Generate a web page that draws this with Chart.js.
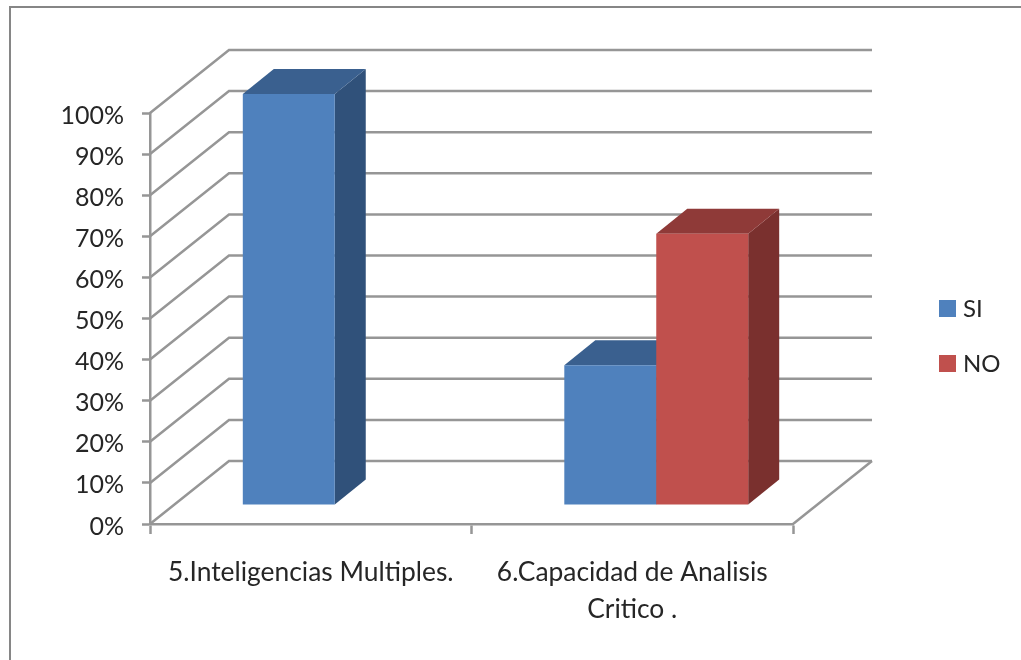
<!DOCTYPE html>
<html>
<head>
<meta charset="utf-8">
<style>
  html, body { margin: 0; padding: 0; background: #fff; overflow: hidden; }
  #frame { position: absolute; left: 9px; top: 6px; width: 1040px; height: 700px; border: 2.5px solid #868686; box-sizing: content-box; }
  #chart { position: absolute; left: 0; top: 0; filter: blur(0.5px); }
</style>
<script src="https://cdn.jsdelivr.net/npm/chart.js@4"></script>
</head>
<body>
<div id="frame"></div>
<canvas id="chart" width="1021" height="660"></canvas>
<script>
// Data
const categories = ["5.Inteligencias Multiples.", ["6.Capacidad de Analisis", "Critico ."]];
const siValues = [100, 34];
const noValues = [null, 66];

const FONT = "Lato, 'Open Sans', sans-serif";
const TEXT = "#262626";
const LINE = "#969696";

// faux 3D: wall depth, how far into it the bars sit, and their own depth
const WALL = { dx: 79, dy: -63 };
const BAR_SHIFT = { dx: 24, dy: -19 };
const BAR_DEPTH = { dx: 31, dy: -25 };

const shades = {
  SI: { front: "#4F81BD", top: "#3A608F", side: "#30517A" },
  NO: { front: "#C0504D", top: "#8F3A38", side: "#7A302E" },
};

// ── Back wall and floor ───────────────────────────────────────────────────

const wallPlugin = {
  id: "wall",
  beforeDatasetsDraw(chart) {
    const { ctx, chartArea: { left, right, bottom }, scales: { y } } = chart;
    ctx.save();
    ctx.strokeStyle = LINE;
    ctx.lineWidth = 2.5;
    y.ticks.forEach(t => {
      const py = y.getPixelForValue(t.value);
      ctx.beginPath();
      ctx.moveTo(left, py);
      ctx.lineTo(left + WALL.dx, py + WALL.dy);
      ctx.lineTo(right + WALL.dx, py + WALL.dy);
      ctx.stroke();
    });
    ctx.beginPath();
    ctx.moveTo(right, bottom);
    ctx.lineTo(right + WALL.dx, bottom + WALL.dy);
    ctx.stroke();
    ctx.restore();
  },
};

// ── Bars: default draw is skipped so SI can go under NO ───────────────────

function fillPoly(ctx, color, pts) {
  ctx.fillStyle = color;
  ctx.beginPath();
  pts.forEach((p, i) => (i ? ctx.lineTo(p[0], p[1]) : ctx.moveTo(p[0], p[1])));
  ctx.closePath();
  ctx.fill();
}

const barsPlugin = {
  id: "bars3d",
  beforeDatasetDraw() {
    return false;
  },
  afterDatasetsDraw(chart) {
    const { ctx } = chart;
    const { dx, dy } = BAR_DEPTH;
    ctx.save();
    ctx.translate(BAR_SHIFT.dx, BAR_SHIFT.dy);
    chart.data.datasets.forEach((ds, i) => {
      const c = shades[ds.label];
      chart.getDatasetMeta(i).data.forEach((bar, j) => {
        if (ds.data[j] === null) return;
        const l = bar.x - bar.width / 2;
        const r = bar.x + bar.width / 2;
        fillPoly(ctx, c.side, [[r, bar.y], [r + dx, bar.y + dy], [r + dx, bar.base + dy], [r, bar.base]]);
        fillPoly(ctx, c.top, [[l, bar.y], [l + dx, bar.y + dy], [r + dx, bar.y + dy], [r, bar.y]]);
        bar.draw(ctx);
      });
    });
    ctx.restore();
  },
};

// ── Legend ────────────────────────────────────────────────────────────────

const legendPlugin = {
  id: "sideLegend",
  afterDraw(chart) {
    const { ctx } = chart;
    ctx.save();
    ctx.font = "24px " + FONT;
    ctx.textBaseline = "middle";
    chart.data.datasets.forEach((ds, i) => {
      const y = 300 + i * 55;
      ctx.fillStyle = shades[ds.label].front;
      ctx.fillRect(939, y, 17, 17);
      ctx.fillStyle = TEXT;
      ctx.fillText(ds.label, 963, y + 9);
    });
    ctx.restore();
  },
};

new Chart(document.getElementById("chart"), {
  type: "bar",
  data: {
    labels: categories,
    datasets: [
      { label: "SI", data: siValues, backgroundColor: shades.SI.front, borderWidth: 0 },
      { label: "NO", data: noValues, backgroundColor: shades.NO.front, borderWidth: 0 },
    ],
  },
  plugins: [wallPlugin, barsPlugin, legendPlugin],
  options: {
    responsive: false,
    animation: false,
    barPercentage: 1,
    categoryPercentage: 0.572,
    layout: { padding: { left: 0, top: 113, right: 228, bottom: 0 } },
    plugins: { legend: { display: false }, tooltip: { enabled: false } },
    scales: {
      x: {
        afterFit(scale) { scale.height = 136; },
        border: { color: LINE, width: 2.5 },
        grid: { drawOnChartArea: false, drawTicks: true, tickLength: 10, tickColor: LINE, tickWidth: 2.5 },
        ticks: { color: TEXT, padding: 20, maxRotation: 0, autoSkip: false, font: { family: FONT, size: 26.4, lineHeight: 1.4 } },
      },
      y: {
        min: 0,
        max: 100,
        afterFit(scale) { scale.width = 150; },
        border: { color: LINE, width: 2.5 },
        grid: { drawOnChartArea: false, drawTicks: true, tickLength: 8, tickColor: LINE, tickWidth: 2.5 },
        // blank first line nudges the label down to where the reference has it
        ticks: { color: TEXT, stepSize: 10, padding: 18, callback: v => ["", v + "%"], font: { family: FONT, size: 25, lineHeight: 0.2 } },
      },
    },
  },
});
</script>
</body>
</html>
